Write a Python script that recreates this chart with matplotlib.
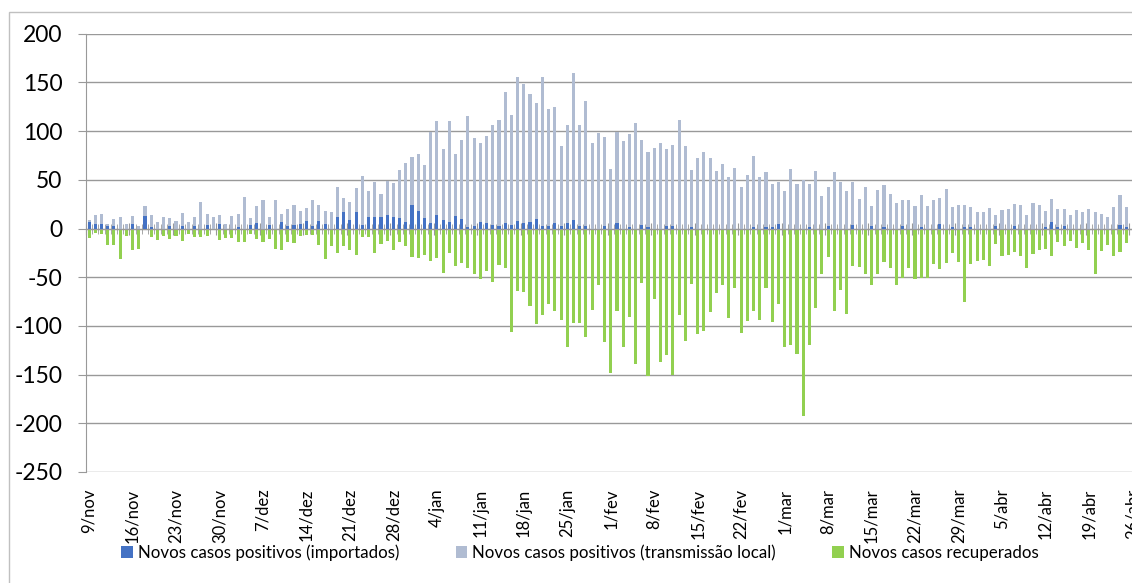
import matplotlib
matplotlib.use("Agg")
import matplotlib.pyplot as plt
from matplotlib.patches import Rectangle
import numpy as np

plt.rcParams['font.family'] = ['Lato', 'DejaVu Sans']
plt.rcParams['axes.unicode_minus'] = False

# dados diarios (9/nov -> 25/abr)
importados = [7, 5, 5, 3, 3, 0, 0, 5, 0, 13,
              2, 0, 0, 3, 0, 3, 0, 3, 0, 4,
              0, 5, 0, 0, 2, 0, 4, 6, 0, 4,
              0, 7, 3, 4, 5, 8, 3, 8, 5, 0,
              12, 17, 9, 17, 4, 12, 12, 12, 14, 12,
              11, 7, 24, 18, 11, 6, 14, 9, 7, 13,
              10, 2, 3, 7, 6, 4, 3, 6, 4, 8,
              6, 7, 10, 3, 3, 6, 3, 6, 9, 3,
              3, 0, 0, 3, 0, 6, 0, 2, 0, 4,
              2, 0, 0, 3, 3, 0, 0, 2, 0, 0,
              0, 0, 0, 0, 0, 0, 0, 2, 0, 2,
              2, 5, 0, 0, 0, 0, 2, 0, 0, 3,
              0, 0, 0, 4, 0, 0, 3, 0, 2, 0,
              0, 3, 0, 0, 2, 0, 0, 5, 0, 2,
              0, 2, 2, 0, 0, 0, 3, 0, 0, 3,
              0, 0, 0, 0, 2, 7, 2, 3, 0, 0,
              0, 0, 0, 0, 0, 0, 4, 2]

transmissao_local = [2, 9, 10, 2, 7, 12, 5, 8, 3, 10,
                     12, 7, 12, 8, 8, 13, 7, 9, 27, 11,
                     12, 9, 5, 13, 13, 32, 7, 17, 29, 8,
                     29, 8, 17, 20, 13, 13, 26, 16, 13, 17,
                     31, 14, 18, 25, 50, 26, 36, 23, 35, 35,
                     49, 60, 49, 58, 54, 93, 96, 73, 103, 64,
                     81, 113, 90, 81, 89, 102, 108, 134, 113, 148,
                     142, 131, 119, 153, 120, 119, 82, 100, 151, 103,
                     128, 88, 98, 91, 61, 93, 90, 95, 108, 87,
                     77, 83, 88, 79, 83, 111, 85, 58, 72, 79,
                     72, 59, 66, 53, 62, 43, 55, 72, 53, 56,
                     44, 43, 38, 61, 46, 50, 44, 59, 33, 40,
                     58, 48, 38, 44, 30, 43, 20, 40, 43, 35,
                     26, 26, 29, 23, 32, 23, 29, 26, 41, 20,
                     24, 22, 20, 17, 17, 21, 11, 19, 20, 22,
                     24, 14, 26, 24, 16, 23, 18, 17, 14, 19,
                     17, 20, 17, 15, 12, 22, 30, 20]

recuperados = [-10, -5, -6, -17, -17, -31, -8, -22, -21, -2,
               -9, -12, -8, -11, -8, -13, -6, -9, -9, -8,
               0, -12, -10, -10, -14, -14, -6, -11, -14, -11,
               -21, -22, -14, -15, -8, -7, -7, -17, -31, -18,
               -25, -18, -22, -27, -9, -9, -25, -16, -13, -22,
               -14, -18, -29, -30, -27, -33, -30, -46, -25, -39,
               -35, -41, -47, -52, -44, -55, -37, -41, -106, -64,
               -65, -80, -98, -89, -78, -85, -94, -122, -97, -97,
               -111, -84, -58, -117, -148, -85, -122, -91, -139, -56,
               -151, -72, -137, -130, -150, -89, -115, -57, -108, -105,
               -86, -66, -58, -92, -61, -107, -95, -85, -94, -61,
               -96, -78, -122, -120, -129, -193, -120, -82, -47, -29,
               -85, -63, -88, -38, -40, -47, -58, -47, -34, -41,
               -58, -51, -41, -52, -51, -51, -36, -42, -35, -25,
               -34, -75, -36, -33, -32, -38, -16, -28, -27, -24,
               -28, -41, -26, -22, -21, -28, -14, -18, -13, -20,
               -15, -22, -47, -23, -17, -28, -24, -15]

datas = ['9/nov', '16/nov', '23/nov', '30/nov', '7/dez', '14/dez', '21/dez',
         '28/dez', '4/jan', '11/jan', '18/jan', '25/jan', '1/fev', '8/fev',
         '15/fev', '22/fev', '1/mar', '8/mar', '15/mar', '22/mar', '29/mar',
         '5/abr', '12/abr', '19/abr', '26/abr']

nomes = ['Novos casos positivos (importados)',
         'Novos casos positivos (transmissão local)',
         'Novos casos recuperados']

x = np.arange(len(recuperados))
n_dias = 169  # 9/nov .. 26/abr

fig = plt.figure(figsize=(11.32, 5.83), dpi=100)
W, H = 1132, 583
ax = fig.add_axes([86 / W, (H - 472) / H, n_dias * 6.21 / W, 438.3 / H])

cinza = '#999999'
b1 = ax.bar(x, importados, width=0.5, color='#4472C4')
b2 = ax.bar(x, transmissao_local, width=0.5, bottom=importados, color='#B0BCD2')
b3 = ax.bar(x, recuperados, width=0.5, color='#92D050')

ax.set_xlim(-0.5, n_dias - 0.5)
ax.set_ylim(-250, 200)
ax.set_yticks(range(-250, 201, 50))
ax.tick_params(axis='y', labelsize=16.5, length=6, color=cinza, pad=11)
ax.grid(axis='y', color=cinza, linewidth=1.0)
ax.set_axisbelow(True)

for s in ['top', 'right']:
    ax.spines[s].set_visible(False)
ax.spines['left'].set_color(cinza)
ax.spines['bottom'].set_position(('data', 0))
ax.spines['bottom'].set_color(cinza)

# marcas cruzando o eixo em zero
ax.set_xticks(np.arange(0, n_dias, 7) - 0.5)
ax.set_xticks(np.arange(0, n_dias + 1) - 0.5, minor=True)
ax.tick_params(axis='x', which='major', direction='inout', length=8,
               color=cinza, labelbottom=False)
ax.tick_params(axis='x', which='minor', direction='inout', length=6.5,
               color=cinza)

# rotulos das datas em baixo
ax2 = ax.twiny()
ax2.set_xlim(ax.get_xlim())
ax2.xaxis.set_ticks_position('bottom')
ax2.set_xticks(np.arange(0, n_dias, 7))
ax2.set_xticklabels(datas, rotation=90, fontsize=12)
ax2.tick_params(axis='x', length=0, pad=12)
for s in ax2.spines.values():
    s.set_visible(False)

fig.legend([b1, b2, b3], nomes, loc='center', bbox_to_anchor=(580 / W, 1 - 553 / H),
           ncol=3, frameon=False, fontsize=12.2, handlelength=0.7, handleheight=0.7,
           handletextpad=0.3, columnspacing=3.3)

# borda da area do grafico
fig.patches.append(Rectangle((9 / W, -0.1), 1.2, 1.1 - 12 / H, transform=fig.transFigure,
                             fill=False, edgecolor='#c0c0c0', linewidth=1.0))

fig.savefig('out.png', dpi=100)
